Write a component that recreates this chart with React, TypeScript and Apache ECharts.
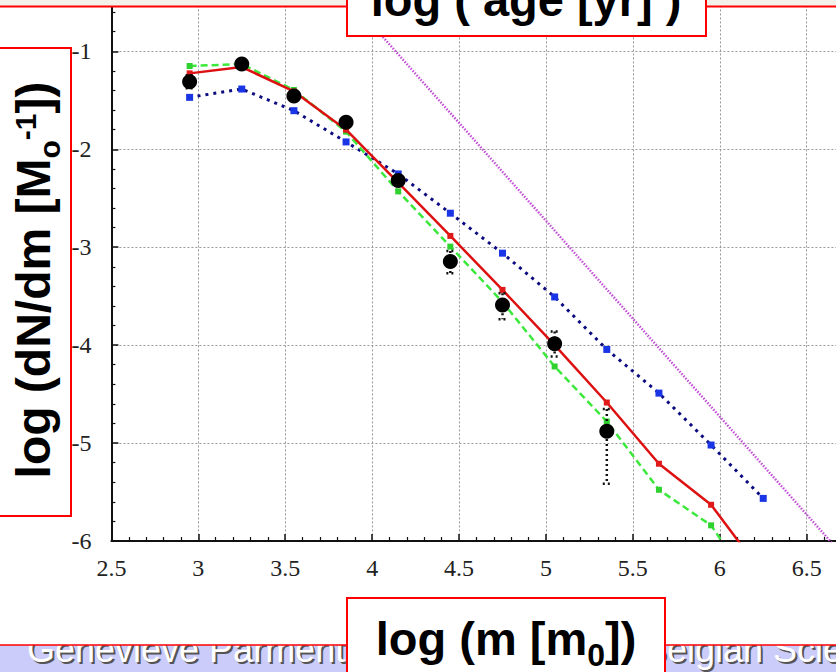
import React, { useEffect, useRef } from 'react';
import * as echarts from 'echarts';

// ---- data ----
const massBins = [2.95, 3.25, 3.55, 3.85, 4.15, 4.45, 4.75, 5.05, 5.35, 5.65, 5.95, 6.25];
const observed = [-1.31, -1.13, -1.456, -1.725, -2.32, -3.147, -3.589, -3.987, -4.88];
const observedUpper = [-1.244, -1.10, -1.43, -1.70, -2.29, -3.04, -3.47, -3.861, -4.653];
const observedLower = [-1.377, -1.16, -1.48, -1.75, -2.35, -3.265, -3.735, -4.116, -5.415];
const modelRed = [-1.225, -1.16, -1.41, -1.80, -2.34, -2.885, -3.436, -4.0, -4.586, -5.211, -5.63, -6.34];
const modelGreen = [-1.15, -1.13, -1.395, -1.82, -2.43, -2.994, -3.56, -4.218, -4.78, -5.477, -5.84, -6.63];
const modelBlue = [-1.47, -1.385, -1.606, -1.925, -2.252, -2.653, -3.061, -3.508, -4.044, -4.49, -5.02, -5.565];
const powerLawX = [3.5, 7.0];
const powerLawY = [0.27, -6.73];

const xTitle = ['log (m [m', '0', '])'];
const yTitle = ['log (dN/dm [M', 'o', '-1', '])'];
const topTitle = 'log ( age [yr] )';
const footerLeft = 'Genevieve Parmentier';
const footerRight = 'Belgian Science Policy';

const SANS = 'Liberation Sans';
const SERIF = 'Liberation Serif, Times New Roman, serif';

function measure(text: string, size: number, weight = 'bold') {
  const ctx = document.createElement('canvas').getContext('2d')!;
  ctx.font = `${weight} ${size}px "Liberation Sans"`;
  return ctx.measureText(text).width;
}

type Part = { t: string; fs: number; dy: number };
function layoutParts(parts: Part[], cx: number, baseline: number) {
  const widths = parts.map((p) => measure(p.t, p.fs));
  const total = widths.reduce((a, b) => a + b, 0);
  let x = cx - total / 2;
  return parts.map((p, i) => {
    const el = {
      type: 'text',
      x,
      y: baseline + p.dy - 0.35 * p.fs,
      z: 100,
      style: {
        text: p.t,
        fill: '#000',
        fontSize: p.fs,
        fontWeight: 'bold',
        fontFamily: SANS,
        align: 'left',
        verticalAlign: 'middle',
      },
    };
    x += widths[i];
    return el;
  });
}

export default function App() {
  const ref = useRef<HTMLDivElement>(null);
  useEffect(() => {
    document.body.style.margin = '0';
    const chart = echarts.init(ref.current!, null, { renderer: 'svg' });

    const pair = (ys: number[]) => ys.map((y, i) => [massBins[i], y]);
    const errData = observed.map((_, i) => [massBins[i], observedUpper[i], observedLower[i]]);

    const axisCommon = {
      type: 'value',
      axisLine: { show: true, onZero: false, lineStyle: { color: '#111', width: 2 } },
      axisTick: { show: true, inside: true, length: 7, lineStyle: { color: '#111', width: 1.5 } },
      minorTick: { show: true, splitNumber: 5, length: 4, lineStyle: { color: '#111', width: 1.2 } },
      splitLine: { show: true, lineStyle: { color: '#999', width: 1, type: [2, 2] } },
      axisLabel: { color: '#222', fontFamily: SERIF, fontSize: 24 },
    };

    const xTitleEls = layoutParts(
      [
        { t: xTitle[0], fs: 47, dy: 0 },
        { t: xTitle[1], fs: 32, dy: 11 },
        { t: xTitle[2], fs: 47, dy: 0 },
      ],
      506,
      655
    );
    const yTitleEls = layoutParts(
      [
        { t: yTitle[0], fs: 48, dy: 0 },
        { t: yTitle[1], fs: 30, dy: 10 },
        { t: yTitle[2], fs: 30, dy: -14 },
        { t: yTitle[3], fs: 48, dy: 0 },
      ],
      0,
      0
    );

    const FS = 36;
    const footerText = (text: string, x: number) => [
      {
        type: 'text', x: x + 2, y: 664 - 0.35 * FS, z: 100,
        style: { text, fill: '#555', fontSize: FS, fontFamily: SANS, align: 'left', verticalAlign: 'middle' },
      },
      {
        type: 'text', x, y: 662 - 0.35 * FS, z: 100,
        style: { text, fill: '#fff', fontSize: FS, fontFamily: SANS, align: 'left', verticalAlign: 'middle' },
      },
    ];

    const option: any = {
      animation: false,
      backgroundColor: '#fff',
      grid: {
        left: 111.4, top: -46.6, width: 782.2, height: 587.6,
        containLabel: false, outerBoundsMode: 'none',
      },
      xAxis: { ...axisCommon, min: 2.5, max: 7, interval: 0.5, axisLabel: { ...axisCommon.axisLabel, margin: 15 } },
      yAxis: { ...axisCommon, min: -6, max: 0, interval: 1, axisLabel: { ...axisCommon.axisLabel, margin: 20 } },
      series: [
        {
          type: 'line', data: powerLawX.map((x, i) => [x, powerLawY[i]]), symbol: 'none',
          lineStyle: { color: '#c24fd6', width: 2.5, type: [1.5, 1.5] }, z: 2, silent: true,
        },
        {
          type: 'line', data: pair(modelBlue), symbol: 'rect', symbolSize: 7, showSymbol: true,
          itemStyle: { color: '#1a35e6' }, lineStyle: { color: '#0c0c80', width: 3, type: [3, 5] }, z: 3,
        },
        {
          type: 'line', data: pair(modelGreen), symbol: 'rect', symbolSize: 6, showSymbol: true,
          itemStyle: { color: '#2ed12e' }, lineStyle: { color: '#3de83d', width: 2.5, type: [7, 4] }, z: 4,
        },
        {
          type: 'line', data: pair(modelRed), symbol: 'rect', symbolSize: 6, showSymbol: true,
          itemStyle: { color: '#e01a1a' }, lineStyle: { color: '#dd1111', width: 2.5 }, z: 5,
        },
        {
          type: 'custom', data: errData, z: 6,
          renderItem: (params: any, api: any) => {
            const x = api.value(0);
            const hi = api.coord([x, api.value(1)]);
            const lo = api.coord([x, api.value(2)]);
            const st = { stroke: '#111', lineWidth: 2.5, lineDash: [2, 3], fill: 'none' };
            return {
              type: 'group',
              children: [
                { type: 'line', shape: { x1: hi[0], y1: hi[1], x2: lo[0], y2: lo[1] }, style: st },
                { type: 'line', shape: { x1: hi[0] - 4, y1: hi[1], x2: hi[0] + 4, y2: hi[1] }, style: st },
                { type: 'line', shape: { x1: lo[0] - 4, y1: lo[1], x2: lo[0] + 4, y2: lo[1] }, style: st },
              ],
            };
          },
        },
        {
          type: 'scatter', data: observed.map((y, i) => [massBins[i], y]), symbol: 'circle', symbolSize: 15,
          itemStyle: { color: '#000', opacity: 1 }, z: 7,
        },
      ],
      graphic: [
        { type: 'rect', z: 100, shape: { x: 0, y: 0, width: 836, height: 6.5 }, style: { fill: '#f4f1ea' } },
        { type: 'line', z: 100, shape: { x1: 0, y1: 6.5, x2: 836, y2: 6.5 }, style: { stroke: '#ff0000', lineWidth: 2 } },
        { type: 'rect', z: 100, shape: { x: 347, y: -10, width: 359, height: 46 }, style: { fill: '#fff', stroke: '#ff0000', lineWidth: 2 } },
        ...layoutParts([{ t: topTitle, fs: 47, dy: 0 }], 526, 16),
        { type: 'rect', z: 100, shape: { x: -10, y: 48, width: 81, height: 468 }, style: { fill: '#fff', stroke: '#ff0000', lineWidth: 2 } },
        { type: 'group', z: 100, x: 50, y: 280, rotation: Math.PI / 2, children: yTitleEls },
        { type: 'rect', z: 100, shape: { x: 0, y: 645, width: 836, height: 30 }, style: { fill: '#ccccfa' } },
        ...footerText(footerLeft, 27),
        ...footerText(footerRight, 643),
        { type: 'rect', z: 100, shape: { x: 0, y: 588, width: 836, height: 57 }, style: { fill: '#fff' } },
        { type: 'line', z: 100, shape: { x1: 0, y1: 645, x2: 836, y2: 645 }, style: { stroke: '#ff0000', lineWidth: 1.5 } },
        { type: 'rect', z: 100, shape: { x: 347, y: 598, width: 318, height: 90 }, style: { fill: '#fff', stroke: '#ff0000', lineWidth: 2 } },
        ...xTitleEls,
      ],
    };
    chart.setOption(option);
    return () => chart.dispose();
  }, []);
  return <div ref={ref} style={{ position: 'absolute', left: 0, top: 0, width: 836, height: 672 }} />;
}
